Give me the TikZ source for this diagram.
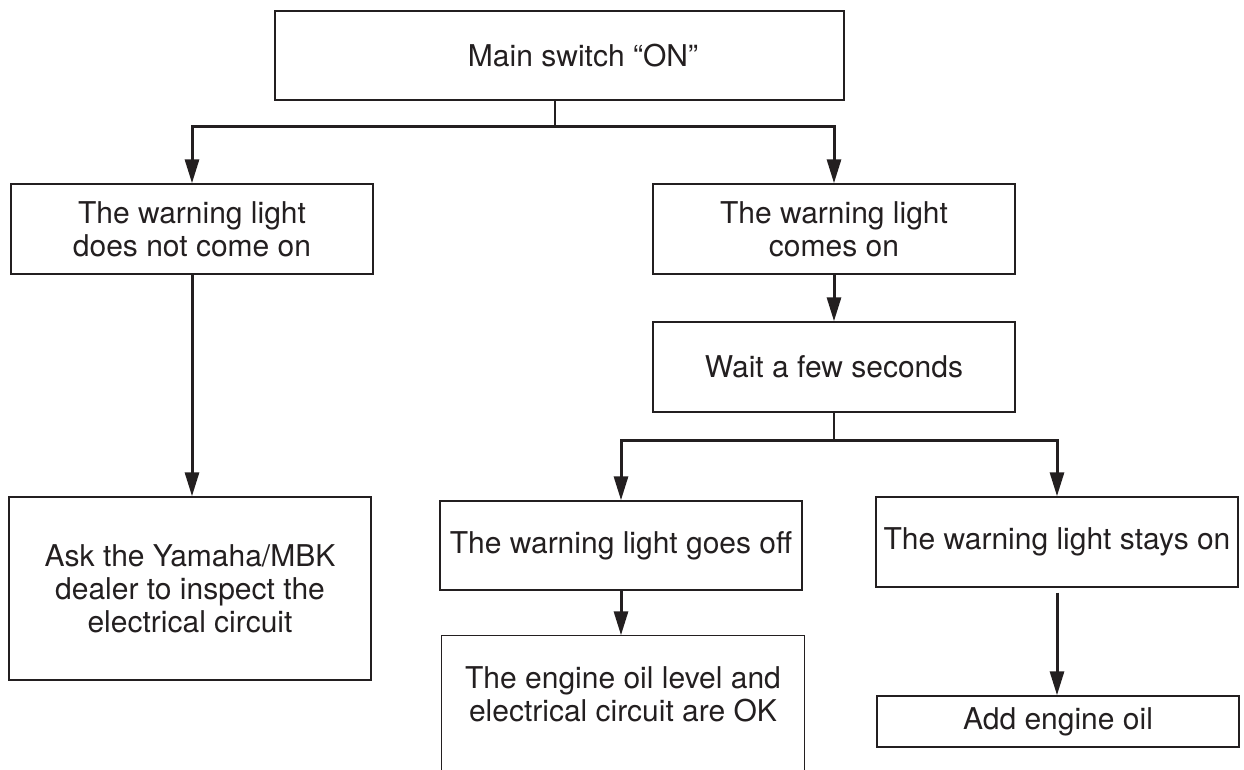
\documentclass[tikz,border=0pt]{standalone}
\usepackage{fontspec}
\setmainfont{TeX Gyre Heros}
\usetikzlibrary{arrows.meta}

\definecolor{ink}{HTML}{231F20}

\tikzset{
  box/.style={draw=ink, line width=0.7pt, text=ink, align=center, inner sep=0pt,
    minimum width=181pt, minimum height=45pt,
    font=\fontsize{15}{16.5}\selectfont},
  link/.style={draw=ink, line width=1.5pt},
  stem/.style={draw=ink, line width=1pt},
  arrow/.style={link, -{Triangle[length=12pt,width=7pt]}},
}

\begin{document}
\begin{tikzpicture}[x=0.5pt, y=-0.5pt]

\path[use as bounding box, clip] (0,0) rectangle (1244,770);

% text sits a little right of the box centre
\draw (559.5,55.5) node[box, minimum width=284.5pt, minimum height=44.5pt] (main) {\hspace*{23.5pt}Main switch “ON”};

\coordinate (fork1) at (555,127);

\draw (192,229) node[box] (nocome) {The warning light\\does not come on};

\draw (834,229) node[box] (comes) {The warning light\\comes on};

\draw (834,367) node[box] (wait) {Wait a few seconds};

\coordinate (fork2) at (834,441);

\draw (190,588.5) node[box, minimum height=91.5pt] (ask) {Ask the Yamaha/MBK\\dealer to inspect the\\electrical circuit};

\draw (621,545.5) node[box, minimum height=44.5pt] (goesoff) {The warning light goes off};

\draw (1057,542) node[box] (stays) {The warning light stays on};

% this box runs off the bottom edge
\draw (623,694) node[box, draw=none, minimum height=58pt] (oilok) {The engine oil level and\\electrical circuit are OK};
\draw[ink, line width=0.7pt] ([yshift=-30pt]oilok.south west) -- (oilok.north west) -- (oilok.north east) -- ([yshift=-30pt]oilok.south east);

\draw (1058,721.5) node[box, minimum height=25.5pt] (add) {Add engine oil};

% connectors
\draw[stem] (fork1 |- main.south) -- (fork1);
\draw[arrow] (fork1) -| (nocome.north);
\draw[arrow] (fork1) -| (comes.north);

\draw[arrow] (nocome.south) -- (nocome.south |- ask.north);
\draw[arrow] (comes.south) -- (comes.south |- wait.north);

\draw[stem] (wait.south) -- (fork2);
\draw[arrow] (fork2) -| (goesoff.north);
\draw[arrow] (fork2) -| (stays.north);

\draw[arrow] (goesoff.south) -- (goesoff.south |- oilok.north);
\draw[arrow, shorten <=2.5pt] (stays.south) -- (stays.south |- add.north);

\end{tikzpicture}
\end{document}
